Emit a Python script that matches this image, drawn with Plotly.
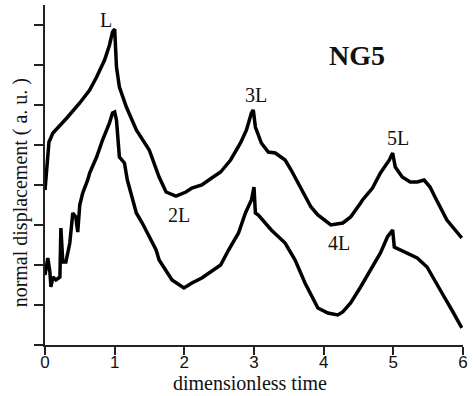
import plotly.graph_objects as go

# Upper curve (dimensionless time, displacement in a.u.)
upper_x = [0.0, 0.057, 0.114, 0.214, 0.313, 0.499, 0.641, 0.741, 0.855, 0.926, 0.969, 1.0,
           1.026, 1.068, 1.168, 1.311, 1.496, 1.638, 1.738, 1.880, 2.023, 2.108, 2.251, 2.393,
           2.521, 2.664, 2.806, 2.892, 2.963, 2.99, 3.02, 3.105, 3.205, 3.305, 3.447, 3.533,
           3.632, 3.732, 3.818, 3.917, 4.103, 4.274, 4.387, 4.530, 4.558, 4.701, 4.815, 4.943,
           4.99, 5.028, 5.128, 5.242, 5.342, 5.442, 5.527, 5.598, 5.769, 5.983]
upper_y = [3.875, 5.075, 5.3, 5.475, 5.675, 6.05, 6.375, 6.7, 7.125, 7.5, 7.825, 7.9,
           6.95, 6.45, 5.95, 5.375, 4.875, 4.2, 3.825, 3.725, 3.825, 3.925, 4.0, 4.175,
           4.325, 4.625, 5.05, 5.375, 5.8, 5.875, 5.45, 5.05, 4.825, 4.8, 4.625, 4.375,
           4.05, 3.7, 3.45, 3.25, 3.0, 3.05, 3.2, 3.55, 3.625, 3.925, 4.3, 4.625,
           4.8, 4.45, 4.2, 4.075, 4.075, 4.125, 3.95, 3.7, 3.125, 2.675]

# Lower curve
lower_x = [0.0, 0.04, 0.07, 0.085, 0.114, 0.157, 0.214, 0.228, 0.256, 0.3, 0.356, 0.399,
           0.442, 0.47, 0.499, 0.541, 0.613, 0.641, 0.741, 0.826, 0.926, 0.969, 1.0, 1.026,
           1.068, 1.14, 1.182, 1.254, 1.311, 1.396, 1.496, 1.595, 1.638, 1.738, 1.823, 1.994,
           2.108, 2.251, 2.379, 2.521, 2.635, 2.778, 2.877, 2.963, 3.0, 3.02, 3.063, 3.248,
           3.447, 3.59, 3.732, 3.875, 3.917, 4.06, 4.202, 4.274, 4.387, 4.53, 4.672, 4.815,
           4.915, 4.99, 5.014, 5.157, 5.342, 5.484, 5.598, 5.698, 5.84, 5.983]
lower_y = [1.75, 2.175, 1.825, 1.45, 1.7, 1.625, 1.7, 2.925, 2.075, 2.075, 2.55, 3.3,
           3.2, 2.825, 3.5, 3.8, 4.125, 4.3, 4.7, 5.125, 5.55, 5.8, 5.825, 5.625,
           4.7, 4.55, 4.125, 3.625, 3.3, 3.05, 2.7, 2.375, 2.125, 1.875, 1.625, 1.425,
           1.55, 1.675, 1.825, 2.0, 2.375, 2.8, 3.3, 3.625, 3.95, 3.3, 3.25, 2.875,
           2.55, 2.125, 1.55, 1.05, 0.925, 0.8, 0.75, 0.825, 1.05, 1.45, 1.875, 2.3,
           2.7, 2.875, 2.45, 2.325, 2.175, 1.95, 1.625, 1.3, 0.875, 0.425]

x_ticks = [0, 1, 2, 3, 4, 5, 6]
y_ticks = [0, 1, 2, 3, 4, 5, 6, 7, 8]

labels = ["L", "2L", "3L", "4L", "5L"]
label_x = [0.88, 1.92, 3.03, 4.22, 5.06]
label_y = [8.125, 3.25, 6.25, 2.55, 5.18]

fig = go.Figure()
fig.add_trace(go.Scatter(x=upper_x, y=upper_y, mode="lines",
                         line=dict(color="black", width=3.5), showlegend=False))
fig.add_trace(go.Scatter(x=lower_x, y=lower_y, mode="lines",
                         line=dict(color="black", width=3.5), showlegend=False))

serif = "Liberation Serif, Times New Roman, serif"
for t, lx, ly in zip(labels, label_x, label_y):
    fig.add_annotation(x=lx, y=ly, text=t, showarrow=False,
                       font=dict(family=serif, size=20, color="#111"))
fig.add_annotation(x=4.48, y=7.25, text="<b>NG5</b>", showarrow=False,
                   font=dict(family=serif, size=28, color="#111"))

fig.add_annotation(xref="paper", yref="paper", x=0.49, y=-0.112,
                   xanchor="center", yanchor="middle",
                   text="dimensionless time", showarrow=False,
                   font=dict(family=serif, size=20, color="#111"))
fig.add_annotation(xref="paper", yref="paper", x=-0.059, y=0.447,
                   xanchor="center", yanchor="middle",
                   text="normal displacement ( a. u. )", textangle=-90, showarrow=False,
                   font=dict(family=serif, size=20, color="#111"))

fig.update_xaxes(range=[0, 6], tickvals=x_ticks, ticks="outside", ticklen=8, tickwidth=2,
                 showline=True, linewidth=2, linecolor="#222", tickcolor="#222",
                 showgrid=False, zeroline=False, ticklabelstandoff=-7,
                 tickfont=dict(family="Liberation Sans, Arial", size=17, color="#111"))
fig.update_yaxes(range=[0, 8.5], tickvals=y_ticks, ticks="outside", ticklen=9, tickwidth=2,
                 showticklabels=False,
                 showline=True, linewidth=2, linecolor="#222", tickcolor="#222",
                 showgrid=False, zeroline=False)

fig.update_layout(width=473, height=396, margin=dict(l=45, r=6, t=5, b=51),
                  plot_bgcolor="white", paper_bgcolor="white")
fig.write_html("out.html", config={"displayModeBar": False},
               post_script="document.body.style.margin='0';")
